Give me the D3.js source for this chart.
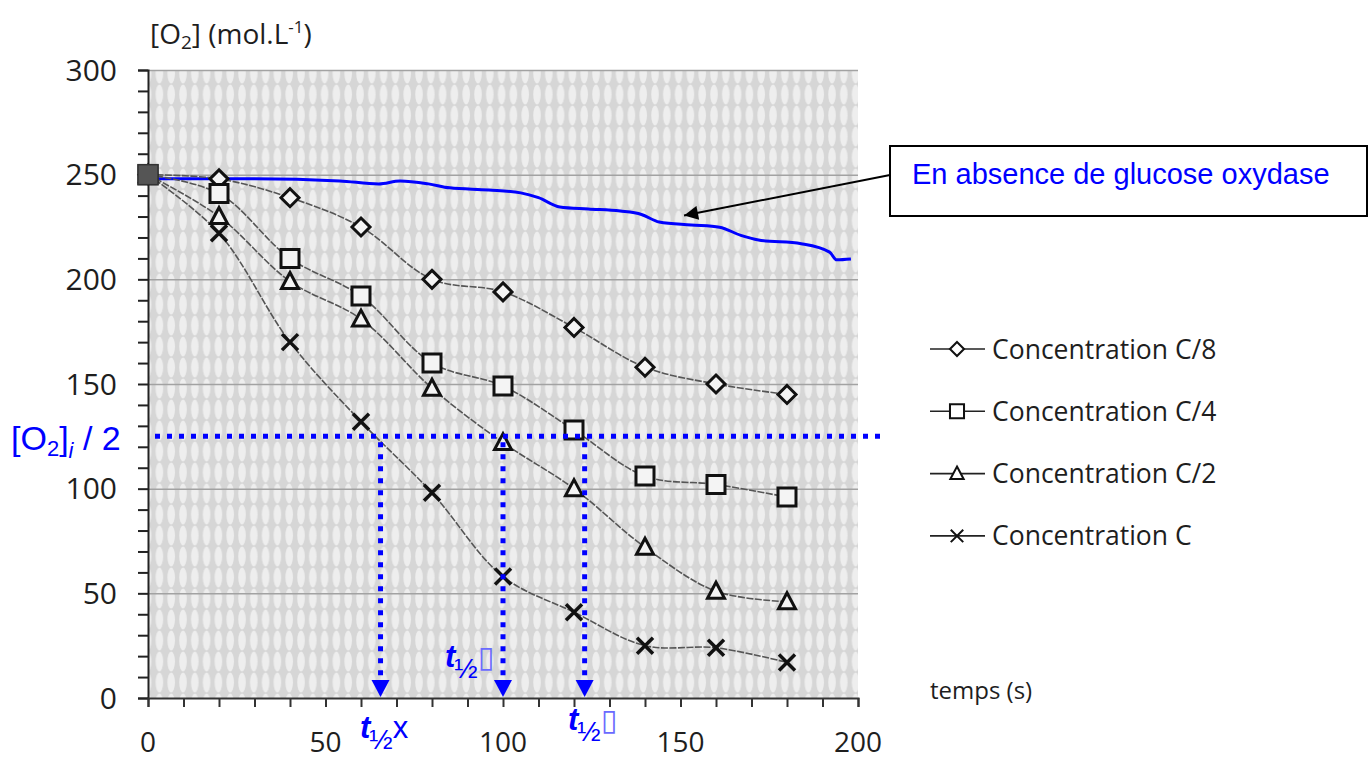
<!DOCTYPE html>
<html>
  <head>
    <meta charset="utf-8">
    <title></title>
  </head>
  <style>
    body{ margin:0; background:#fff; }
    svg text{ font-family:"Open Sans", sans-serif; }
    .blue{ font-family:"Liberation Sans", Arial, sans-serif !important; fill:#0000ff; }
  </style>
  <script src="https://d3js.org/d3.v7.min.js"></script>
  <body>
    <script>
    // temps (s)
    var temps = [0, 20, 40, 60, 80, 100, 120, 140, 160, 180]
    // [O2] for each concentration
    var c8 = [250, 248, 239, 225, 200, 194, 177, 158, 150, 145]
    var c4 = [250, 241, 210, 192, 160, 149, 128, 106, 102, 96]
    var c2 = [250, 230, 199, 181, 148, 122, 100, 72, 51, 46]
    var c1 = [250, 222, 170, 132, 98, 58, 41, 25, 24, 17]
    // sans glucose oxydase
    var blankT = [0, 29, 54, 65, 71, 79, 85, 96, 105, 110, 116, 124, 133, 139, 144, 153, 161, 167, 172, 184, 192, 194, 198]
    var blankO2 = [248, 248, 247, 245.6, 247, 245.6, 243.7, 242.7, 241.3, 239, 234.6, 233.6, 232.6, 231, 227.4, 226, 224.9, 221, 218.8, 217, 213, 209.3, 209.7]

    var seriesNames = ["Concentration C/8", "Concentration C/4", "Concentration C/2", "Concentration C"]
    var seriesShapes = ["diamond", "square", "triangle", "cross"]
    var seriesValues = [c8, c4, c2, c1]

    var yTicks = [0, 50, 100, 150, 200, 250, 300]
    var xTicks = [0, 50, 100, 150, 200]
    var halfO2 = 125
    var halfTimes = [65.5, 100, 123]

    var W = 1370, H = 761
    var svg = d3.select("body").append("svg").attr("width", W).attr("height", H)

    var x = d3.scaleLinear().domain([0, 200]).range([148, 858])
    var y = d3.scaleLinear().domain([0, 300]).range([698, 70])

    // fond tramé (scan)
    var defs = svg.append("defs")
    var pat = defs.append("pattern").attr("id", "trame")
        .attr("patternUnits", "userSpaceOnUse")
        .attr("width", 11.8).attr("height", 21)
    pat.append("rect").attr("width", 11.8).attr("height", 21).attr("fill", "#d6d6d6")
    pat.append("ellipse").attr("cx", 6).attr("cy", 10.5).attr("rx", 3.8).attr("ry", 10).attr("fill", "#eeeeee")

    defs.append("marker").attr("id", "headBlack")
        .attr("viewBox", "0 0 10 10").attr("refX", 10).attr("refY", 5)
        .attr("markerWidth", 8).attr("markerHeight", 7).attr("markerUnits", "strokeWidth")
        .attr("orient", "auto")
      .append("path").attr("d", "M0,0 L10,5 L0,10 z").attr("fill", "#000")

    svg.append("rect")
        .attr("x", x(0)).attr("y", y(300))
        .attr("width", x(200) - x(0)).attr("height", y(0) - y(300))
        .attr("fill", "url(#trame)")

    // grille
    svg.append("g")
        .attr("transform", "translate(" + x(0) + ",0)")
        .call(d3.axisLeft(y).tickValues(yTicks.slice(1)).tickSize(-(x(200) - x(0))).tickFormat(""))
        .call(function(g){ g.select(".domain").remove() })
        .selectAll("line").attr("stroke", "#a2a2a2").attr("stroke-width", 1.5)

    // axes
    var yAxis = svg.append("g")
        .attr("transform", "translate(" + x(0) + ",0)")
        .call(d3.axisLeft(y).ticks(30).tickSize(10).tickFormat(""))
    yAxis.select(".domain").attr("stroke", "#222").attr("stroke-width", 2)
    yAxis.selectAll("line").attr("stroke", "#222").attr("stroke-width", 2)

    var xAxis = svg.append("g")
        .attr("transform", "translate(0," + y(0) + ")")
        .call(d3.axisBottom(x).ticks(20).tickSize(9).tickFormat(""))
    xAxis.select(".domain").attr("stroke", "#333").attr("stroke-width", 2)
    xAxis.selectAll("line").attr("stroke", "#333").attr("stroke-width", 2)

    svg.append("g").selectAll("text").data(yTicks).enter().append("text")
        .attr("x", 117).attr("y", function(d){ return y(d) })
        .attr("dy", "0.36em").attr("text-anchor", "end")
        .attr("font-size", 30).attr("fill", "#1e1e1e")
        .text(function(d){ return d })

    svg.append("g").selectAll("text").data(xTicks).enter().append("text")
        .attr("x", function(d){ return x(d) }).attr("y", 752)
        .attr("text-anchor", "middle")
        .attr("font-size", 28).attr("fill", "#1e1e1e")
        .text(function(d){ return d })

    var yt = svg.append("text").attr("x", 150).attr("y", 44).attr("font-size", 28).attr("fill", "#1e1e1e")
    yt.append("tspan").text("[O")
    yt.append("tspan").attr("font-size", 19).attr("dy", 5).text("2")
    yt.append("tspan").attr("dy", -5).text("] (mol.L")
    yt.append("tspan").attr("font-size", 17).attr("dy", -11).text("-1")
    yt.append("tspan").attr("dy", 11).text(")")

    svg.append("text").attr("x", 930).attr("y", 699).attr("font-size", 24).attr("fill", "#1e1e1e").text("temps (s)")

    // courbe sans enzyme
    var blank = blankT.map(function(t, i){ return [t, blankO2[i]] })
    svg.append("path").datum(blank)
        .attr("d", d3.line().x(function(d){ return x(d[0]) }).y(function(d){ return y(d[1]) }).curve(d3.curveMonotoneX))
        .attr("fill", "none").attr("stroke", "#0000ff").attr("stroke-width", 3)

    // séries
    function shapePath(s){
      if (s == "diamond") return "M0,-9 L9,0 L0,9 L-9,0 Z"
      if (s == "square") return "M-9,-9 L9,-9 L9,9 L-9,9 Z"
      if (s == "triangle") return "M0,-9 L8.5,7 L-8.5,7 Z"
      return "M-8,-8 L8,8 M8,-8 L-8,8"
    }
    var line = d3.line()
        .x(function(d, i){ return x(temps[i]) })
        .y(function(d){ return y(d) })
        .curve(d3.curveCatmullRom.alpha(0.5))

    seriesValues.forEach(function(vals){
      svg.append("path").datum(vals).attr("d", line)
         .attr("fill", "none").attr("stroke", "#555").attr("stroke-width", 1.6)
         .attr("stroke-dasharray", "7,1.5")
    })
    seriesValues.forEach(function(vals, k){
      svg.append("g").selectAll("path").data(vals).enter().append("path")
         .attr("transform", function(d, i){ return "translate(" + x(temps[i]) + "," + y(d) + ")" })
         .attr("d", shapePath(seriesShapes[k]))
         .attr("fill", seriesShapes[k] == "cross" ? "none" : "#f4f4f4")
         .attr("stroke", "#111").attr("stroke-width", seriesShapes[k] == "cross" ? 3.5 : 3)
    })
    // premier point commun
    svg.append("rect")
        .attr("x", x(temps[0]) - 10).attr("y", y(c8[0]) - 10)
        .attr("width", 20).attr("height", 20)
        .attr("fill", "#555").attr("stroke", "#333").attr("stroke-width", 1.5)

    // légende
    var leg = svg.append("g").selectAll("g").data(seriesNames).enter().append("g")
        .attr("transform", function(d, i){ return "translate(930," + (349 + i * 62.3) + ")" })
    leg.append("line").attr("x1", 0).attr("x2", 55).attr("stroke", "#222").attr("stroke-width", 1.6)
    leg.append("path")
        .attr("transform", "translate(27,0) scale(0.78)")
        .attr("d", function(d, i){ return shapePath(seriesShapes[i]) })
        .attr("fill", function(d, i){ return seriesShapes[i] == "cross" ? "none" : "#fff" })
        .attr("stroke", "#111").attr("stroke-width", 2.6)
    leg.append("text").attr("x", 62).attr("dy", "0.36em")
        .attr("font-size", 26.5).attr("fill", "#1e1e1e")
        .text(function(d){ return d })

    // annotation
    svg.append("line")
        .attr("x1", 890).attr("y1", 175)
        .attr("x2", x(151)).attr("y2", y(230.5))
        .attr("stroke", "#000").attr("stroke-width", 2)
        .attr("marker-end", "url(#headBlack)")
    svg.append("rect").attr("x", 890).attr("y", 146).attr("width", 477).attr("height", 70)
        .attr("fill", "#fff").attr("stroke", "#000").attr("stroke-width", 2)
    svg.append("text").attr("class", "blue").attr("x", 912).attr("y", 184)
        .attr("font-size", 29).text("En absence de glucose oxydase")

    // demi-réaction
    var dots = svg.append("g").attr("stroke", "#0000ff").attr("stroke-width", 5).attr("stroke-dasharray", "5,7").attr("fill", "none")
    dots.append("line").attr("x1", 155).attr("x2", 880).attr("y1", y(halfO2)).attr("y2", y(halfO2))
    halfTimes.forEach(function(t){
      dots.append("line").attr("x1", x(t)).attr("x2", x(t)).attr("y1", y(halfO2) + 6).attr("y2", y(0) - 16)
      svg.append("path")
         .attr("d", "M" + (x(t) - 9) + "," + (y(0) - 18) + " L" + (x(t) + 9) + "," + (y(0) - 18) + " L" + x(t) + "," + (y(0) - 1) + " Z")
         .attr("fill", "#0000ff")
    })

    var o2 = svg.append("text").attr("class", "blue").attr("x", 11).attr("y", 450).attr("font-size", 34)
    o2.append("tspan").text("[O")
    o2.append("tspan").attr("font-size", 22).attr("dy", 6).text("2")
    o2.append("tspan").attr("dy", -6).text("]")
    o2.append("tspan").attr("font-size", 22).attr("font-style", "italic").attr("dy", 8).text("i")
    o2.append("tspan").attr("dy", -8).text(" / 2")

    function halfLabel(px, py, suffix, box){
      var t = svg.append("text").attr("class", "blue").attr("x", px).attr("y", py).attr("font-size", 31)
      t.append("tspan").attr("font-style", "italic").attr("font-weight", "bold").text("t")
      t.append("tspan").attr("font-size", 28).attr("dy", 11).attr("dx", -1).text("½")
      var s = t.append("tspan").attr("dy", -11).text(suffix)
      if (box) s.attr("font-family", "DejaVu Sans").attr("font-size", 30).attr("fill", "#6a6aff").attr("dx", 0)
    }
    halfLabel(360, 738, "x", false)
    halfLabel(445, 667, "▯", true)
    halfLabel(568, 730, "▯", true)
    </script>
  </body>
</html>
